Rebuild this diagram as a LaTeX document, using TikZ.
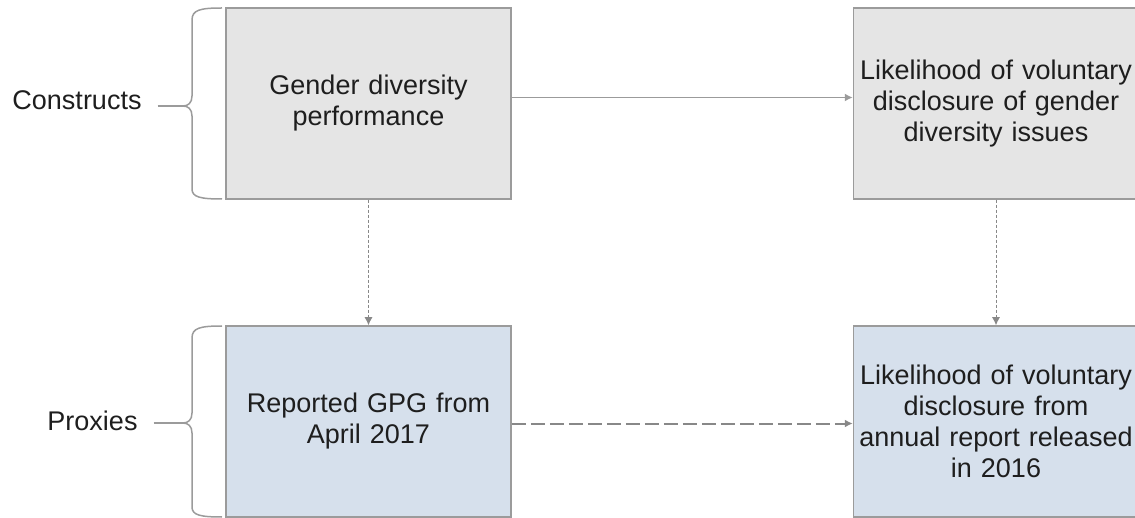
\documentclass[tikz,border=0pt]{standalone}
\usepackage{fontspec}
\setmainfont{Liberation Sans}
\usepackage{tikz}
\usetikzlibrary{arrows.meta}
\tikzset{>={Latex[length = 8pt, width = 8pt]}}
\definecolor{mygray1}{RGB}{229, 229, 229}
\definecolor{myblue1}{RGB}{214, 224, 236}
\definecolor{mygray2}{RGB}{155, 155, 155}
\definecolor{mygray3}{RGB}{136, 136, 136}
\definecolor{mytext}{RGB}{30, 30, 30}
\tikzset{
  box/.style = {draw = mygray2, line width = 1.5pt, minimum width = 285pt, minimum height = 191pt,
    text width = 280pt, align = center, inner sep = 0pt, text = mytext, font = \fontsize{27}{31}\selectfont},
  construct/.style = {box, fill = mygray1},
  proxy/.style = {box, fill = myblue1},
  sidelabel/.style = {anchor = base, inner xsep = 16pt, text = mytext, font = \fontsize{27}{31}\selectfont},
  brace/.style = {draw = mygray2, line width = 1.5pt},
  solidarrow/.style = {->, draw = mygray2, line width = 1.5pt},
  dotarrow/.style = {->, draw = mygray3, line width = 1pt, dash pattern = on 3pt off 2pt},
  dasharrow/.style = {->, draw = mygray3, line width = 2pt, dash pattern = on 14pt off 5pt}
}

\begin{document}
\begin{tikzpicture}[x = 1pt, y = -1pt]
\useasboundingbox (0, 0) rectangle (1135, 518);

% boxes
\node[construct] (gdp) at (368.5, 103.5) {Gender diversity\\performance};
\node[construct] (lvd) at (996, 103.5) {Likelihood of voluntary\\disclosure of gender\\diversity issues};
\node[proxy] (gpg) at (368.5, 421.5) {Reported GPG from\\April 2017};
\node[proxy] (lar) at (996, 421.5) {Likelihood of voluntary\\disclosure from\\annual report released\\in 2016};

% braces
\draw[brace] (222, 8) .. controls (200, 8) and (192, 10) .. (192, 20) -- (192, 96)
  .. controls (192, 103) and (188, 106) .. (183, 106) coordinate (ctip)
  .. controls (188, 106) and (192, 109) .. (192, 116) -- (192, 189)
  .. controls (192, 197) and (200, 199) .. (222, 199);
\draw[brace] (222, 326) .. controls (200, 326) and (192, 328) .. (192, 338) -- (192, 413)
  .. controls (192, 420) and (188, 423) .. (183, 423) coordinate (ptip)
  .. controls (188, 423) and (192, 426) .. (192, 433) -- (192, 507)
  .. controls (192, 515) and (200, 517) .. (222, 517);

\node[sidelabel] (cons) at (77, 110) {Constructs};
\node[sidelabel] (prox) at (92.5, 430) {Proxies};
\draw[brace] (cons.east |- ctip) -- (ctip);
\draw[brace] (prox.east |- ptip) -- (ptip);

% arrows
\draw[solidarrow] ([yshift = 6pt]gdp.east) -- ([yshift = 6pt]lvd.west);
\draw[dasharrow] ([yshift = -2pt]gpg.east) -- ([yshift = -2pt]lar.west);
\draw[dotarrow] (gdp.south) -- (gpg.north);
\draw[dotarrow] (lvd.south) -- (lar.north);
\end{tikzpicture}
\end{document}
